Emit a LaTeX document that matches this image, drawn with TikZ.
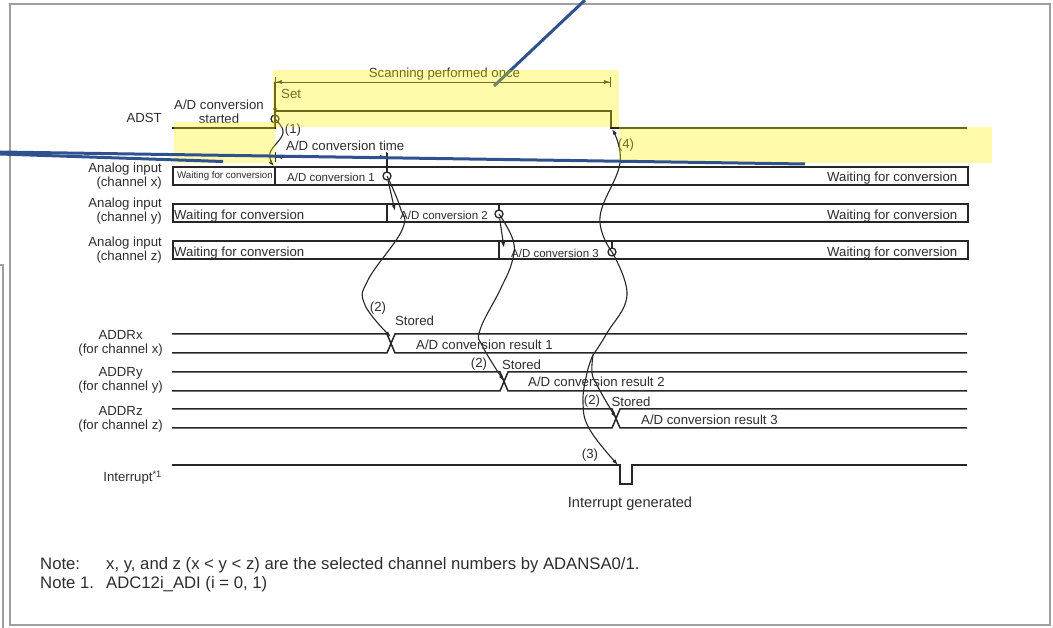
\documentclass[tikz,border=0pt]{standalone}
\usepackage{fontspec}
\setmainfont{Liberation Sans}
\usetikzlibrary{arrows.meta,positioning}
\definecolor{slideblue}{RGB}{47,82,143}
\definecolor{inktext}{RGB}{45,45,45}
\begin{document}
\begin{tikzpicture}[
    x=1pt,y=-1pt,
    every node/.style={font=\fontsize{13.2}{14}\selectfont,align=center,text=inktext,inner sep=0pt},
    frame/.style={draw=gray!75,line width=2pt},
    wave/.style={draw=black!85,line width=1.5pt},
    row/.style={draw=black!85,line width=1.6pt,fill=white},
    curve/.style={black!85,line width=1.1pt},
    arrow/.style={curve,-{Latex[length=6pt,width=4pt]}},
    dim/.style={black!80,line width=.8pt,{Bar[width=10pt]Latex[length=6pt,width=4pt]}-{Latex[length=6pt,width=4pt]Bar[width=10pt]}},
    probe/.style={draw=black!85,circle,line width=1.3pt,minimum size=8pt},
    rlabel/.style={anchor=east,align=right},
    clabel/.style={anchor=east,align=center},
    ltext/.style={anchor=base west},
    conv/.style={anchor=base west,font=\fontsize{11.5}{13}\selectfont},
    note/.style={anchor=base west,font=\fontsize{16.7}{18}\selectfont},
    marker/.style={fill=yellow,fill opacity=.33,draw=none},
    callout/.style={draw=slideblue,line width=3pt}
]
\useasboundingbox (0,0) rectangle (1053,628);
\draw[frame] (10,4) rectangle (1050,625);
\draw[frame] (0,265) -- (3,265) -- (3,628);

\coordinate (adstL) at (172,128);
\coordinate (adstR) at (967,128);
\draw[wave] (adstL) -- (275,128) -- (275,111) -- (611,111) -- (611,128) -- (adstR);
\node[rlabel] at (162,118) {ADST};
\node at (219,111.5) {A/D conversion\\started};
\node[ltext] at (281,99) {Set};

\coordinate (scanL) at (275,82);
\coordinate (scanR) at (611,82);
\draw[dim] (scanL) -- node[above=1.5pt,xshift=1.5pt]{Scanning performed once} (scanR);
\node[probe] (startC) at (275,119) {};
\draw[arrow] (scanL) -- (startC);

\node[row,minimum width=795pt,minimum height=18pt,anchor=west] (rowx) at (172,176) {};
\node[row,minimum width=795pt,minimum height=18pt,anchor=west] (rowy) at (172,213) {};
\node[row,minimum width=795pt,minimum height=18pt,anchor=west] (rowz) at (172,250) {};
\draw[wave] (275,167) -- (275,185);
\draw[wave] (387,204) -- (387,222);
\draw[wave] (499,241) -- (499,259);
\node[rlabel] at (162,176) {Analog input\\(channel x)};
\node[rlabel] at (162,211) {Analog input\\(channel y)};
\node[rlabel] at (162,250) {Analog input\\(channel z)};

\node[ltext,font=\fontsize{9.7}{10}\selectfont] at (177,179) {Waiting for conversion};
\node[conv] at (287,181.5) {A/D conversion 1};
\node[conv] at (400,219.5) {A/D conversion 2};
\node[conv] at (511,257.5) {A/D conversion 3};
\node[ltext] at (174,219.5) {Waiting for conversion};
\node[ltext] at (174,257) {Waiting for conversion};
\node[ltext] at (827,182) {Waiting for conversion};
\node[ltext] at (827,219.5) {Waiting for conversion};
\node[ltext] at (827,257) {Waiting for conversion};

\node[ltext] at (286,150.5) {A/D conversion time};
\coordinate (timeL) at (275,157);
\coordinate (timeR) at (387,157);
\draw[dim] (timeL) -- (timeR);
\draw[curve] (387,153) -- (387,172);
\draw[curve] (499,204) -- (499,210);
\draw[curve] (612,241) -- (612,248);

\node[probe] (donex) at (387,176) {};
\node[probe] (doney) at (499,214) {};
\node[probe] (donez) at (612,252) {};

\draw[wave] (172,334) -- (387,334) -- (395,353) -- (967,353);
\draw[wave] (172,353) -- (387,353) -- (395,334) -- (967,334);
\draw[wave] (172,372) -- (500,372) -- (508,391) -- (967,391);
\draw[wave] (172,391) -- (500,391) -- (508,372) -- (967,372);
\draw[wave] (172,409) -- (612,409) -- (620,428) -- (967,428);
\draw[wave] (172,428) -- (612,428) -- (620,409) -- (967,409);
\draw[wave] (172,465) -- (620,465) -- (620,484) -- (632,484) -- (632,465) -- (967,465);

\coordinate (crossx) at (391,337);
\coordinate (crossy) at (504,381);
\coordinate (crossz) at (616,418);
\coordinate (intr) at (618,465);
\coordinate (adstdrop) at (612,129);
\coordinate (rowxtop) at (274,166);

\node[clabel] at (163,343) {ADDRx\\(for channel x)};
\node[clabel] at (163,380.5) {ADDRy\\(for channel y)};
\node[clabel] at (163,419) {ADDRz\\(for channel z)};
\node[rlabel] at (162,478) {Interrupt\textsuperscript{*1}};

\node[ltext] at (416,349.5) {A/D conversion result 1};
\node[ltext] at (528,386.5) {A/D conversion result 2};
\node[ltext] at (641,424.5) {A/D conversion result 3};
\node at (414.5,320.5) {Stored};
\node at (521.5,364.5) {Stored};
\node at (631,401.5) {Stored};
\node at (378,308.5) {(2)};
\node at (479,364.5) {(2)};
\node at (592,401.5) {(2)};
\node at (590,455.5) {(3)};
\node at (626,145.5) {(4)};
\node at (293,130.5) {(1)};
\node[font=\fontsize{14.6}{15}\selectfont] at (630,503.5) {Interrupt generated};

\draw[arrow] plot[smooth,tension=.7] coordinates {(startC) (283,133) (270,153) (rowxtop)};
\draw[arrow] (donex) -- (395,211);
\draw[arrow] plot[smooth,tension=.7] coordinates {(donex) (400,207) (402,230) (368,280) (365,305) (crossx)};
\draw[arrow] (doney) -- (504,248);
\draw[arrow] plot[smooth,tension=.7] coordinates {(doney) (513,240) (512,262) (500,290) (480,330) (483,347) (crossy)};
\draw[arrow] plot[smooth,tension=.7] coordinates {(donez) (600,217) (620,163) (adstdrop)};
\draw[curve] plot[smooth,tension=.7] coordinates {(donez) (627,295) (607,333) (593,355)};
\draw[arrow] plot[smooth,tension=.7] coordinates {(593,355) (592,373) (597,385) (607,403) (crossz)};
\draw[arrow] plot[smooth,tension=.7] coordinates {(593,355) (587,373) (583,403) (590,430) (intr)};

\node[note] at (40,569.5) {Note:};
\node[note] at (106,569.5) {x, y, and z (x < y < z) are the selected channel numbers by ADANSA0/1.};
\node[note] at (40,588.5) {Note 1.};
\node[note] at (106,588.5) {ADC12i\_ADI (i = 0, 1)};

\coordinate (pointer) at (494,86);
\coordinate (pointerTop) at (585,0);
\draw[callout] (pointerTop) -- (pointer);

\fill[marker] (273,70) rectangle (619,127);
\fill[marker] (174,122) rectangle (275,163);
\fill[marker] (619,127) rectangle (992,163);

\coordinate (calloutA) at (0,152);
\coordinate (calloutB) at (805,164);
\coordinate (calloutC) at (0,154);
\coordinate (calloutD) at (223,161.5);
\draw[callout] (calloutA) -- (calloutB);
\draw[callout] (calloutC) -- (calloutD);
\end{tikzpicture}
\end{document}
